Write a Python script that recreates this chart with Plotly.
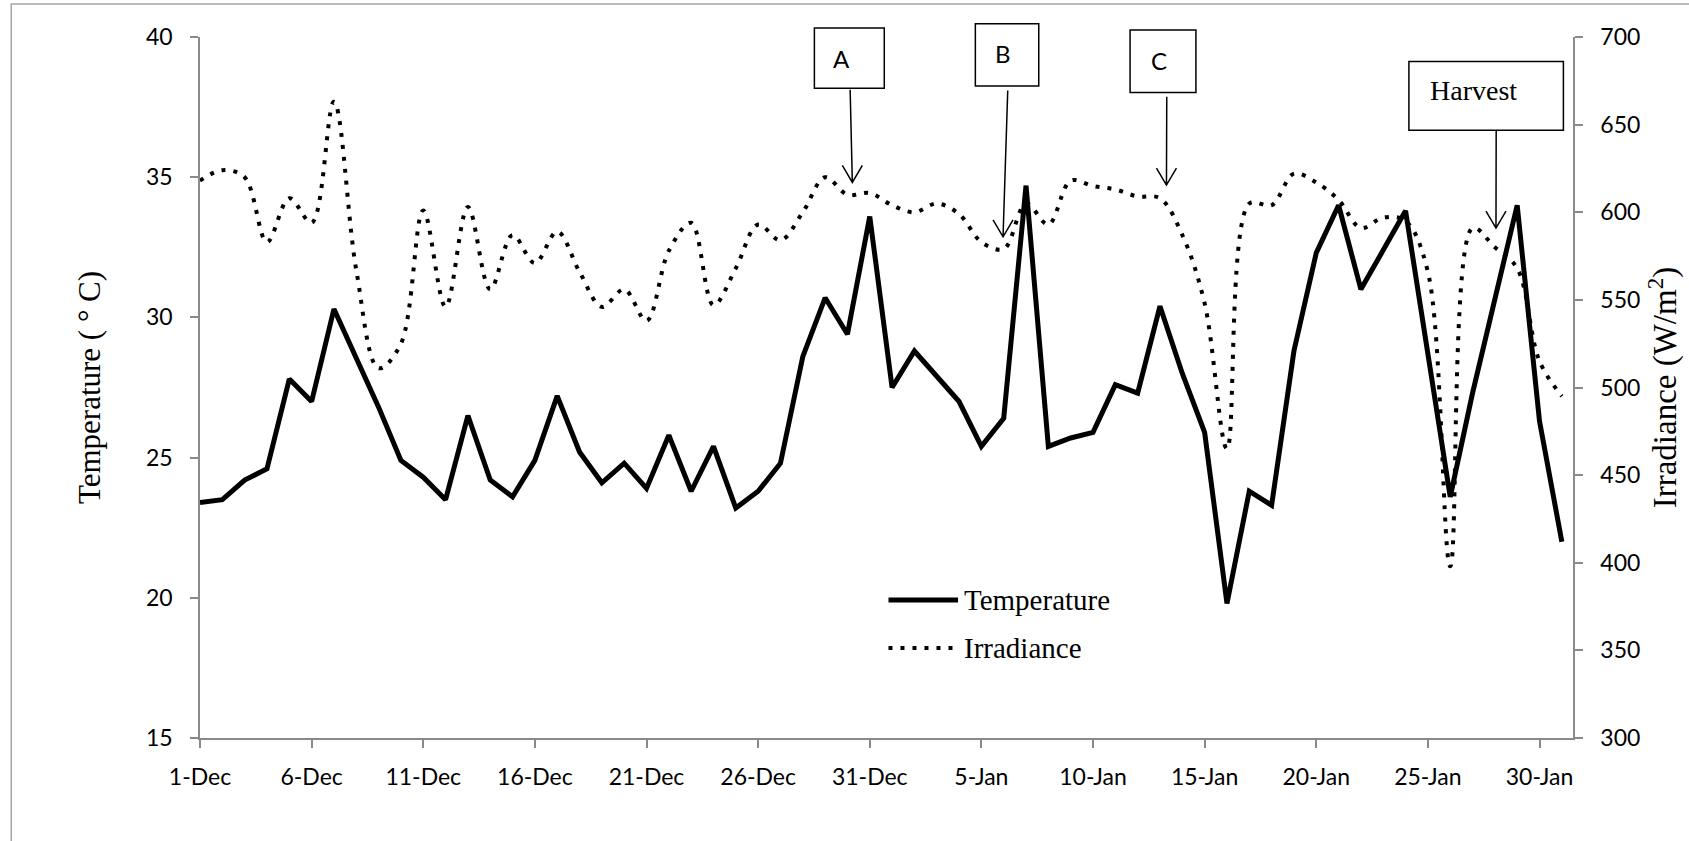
import plotly.graph_objects as go

# ---- data -------------------------------------------------------------
day_numbers = list(range(1, 32)) + list(range(1, 32))
month_names = ["Dec"] * 31 + ["Jan"] * 31
day_labels = [f"{d}-{m}" for d, m in zip(day_numbers, month_names)]
day_index = list(range(len(day_labels)))

temperature = [
    23.4, 23.5, 24.2, 24.6, 27.8, 27.0, 30.3, 28.6, 26.8, 24.9,
    24.3, 23.5, 26.5, 24.2, 23.6, 24.9, 27.2, 25.2, 24.1, 24.8,
    23.9, 25.8, 23.8, 25.4, 23.2, 23.8, 24.8, 28.6, 30.7, 29.4,
    33.6, 27.5, 28.8, 27.9, 27.0, 25.4, 26.4, 34.7, 25.4, 25.7,
    25.9, 27.6, 27.3, 30.4, 28.0, 25.9, 19.8, 23.8, 23.3, 28.8,
    32.3, 34.0, 31.0, 32.4, 33.8, 28.7, 23.6, 27.3, 30.6, 34.0,
    26.3, 22.0,
]

irradiance = [
    618, 624, 620, 583, 608, 594, 663, 567, 511, 525,
    601, 546, 603, 556, 587, 571, 589, 566, 546, 556,
    538, 578, 594, 547, 568, 593, 584, 600, 620, 610,
    611, 604, 600, 605, 599, 583, 579, 605, 593, 618,
    615, 613, 609, 608, 587, 548, 465, 605, 604, 622,
    617, 607, 591, 597, 595, 566, 398, 591, 580, 568,
    515, 495,
]

tick_positions = day_index[::5]
tick_labels = day_labels[::5]

# event markers: label, box (day span, paper span), arrow tip (day, W/m2), tail offset (px)
events = [
    dict(text="A", box=(27.52, 30.65, 0.927, 1.013), text_at=(28.75, 0.970),
         tip=(29.22, 617), tail=(-2.2, 92.7), serif=False),
    dict(text="B", box=(34.73, 37.57, 0.930, 1.019), text_at=(35.96, 0.976),
         tip=(35.97, 586), tail=(4.7, 146.3), serif=False),
    dict(text="C", box=(41.66, 44.61, 0.921, 1.010), text_at=(42.95, 0.966),
         tip=(43.29, 615.5), tail=(0.3, 88.3), serif=False),
    dict(text="Harvest", box=(54.15, 61.07, 0.867, 0.965), text_at=(57.03, 0.924),
         tip=(58.05, 591), tail=(0.2, 97.7), serif=True),
]

AXIS_GREY = "#8a8a8a"
SANS = "Lato"
SERIF = "Liberation Serif"

fig = go.Figure()

fig.add_trace(go.Scatter(
    x=day_index, y=temperature, name="Temperature", mode="lines",
    line=dict(color="black", width=5), yaxis="y", showlegend=False,
))
fig.add_trace(go.Scatter(
    x=day_index, y=irradiance, name="Irradiance", mode="lines",
    line=dict(color="black", width=4, dash="4px,8px", shape="spline"),
    yaxis="y2", showlegend=False,
))

shapes = []
annotations = []

# outer chart frame
shapes.append(dict(
    type="rect", xref="paper", yref="paper",
    x0=(10 - 200) / 1382, x1=(1720 - 200) / 1382,
    y0=(738 - 860) / 701, y1=(738 - 4) / 701,
    line=dict(color="#a6a6a6", width=1.5), layer="below",
))

for ev in events:
    x0, x1, y0, y1 = ev["box"]
    shapes.append(dict(
        type="rect", xref="x", yref="paper", x0=x0, x1=x1, y0=y0, y1=y1,
        line=dict(color="black", width=1.5), fillcolor="white",
    ))
    tx, ty = ev["text_at"]
    annotations.append(dict(
        x=tx, y=ty, xref="x", yref="paper", text=ev["text"], showarrow=False,
        xanchor="center", yanchor="middle",
        font=dict(family=SERIF if ev["serif"] else SANS,
                  size=28 if ev["serif"] else 24, color="black"),
    ))
    dx, dy = ev["tail"]
    shapes.append(dict(
        type="path", xref="x", yref="y2",
        xsizemode="pixel", ysizemode="pixel",
        xanchor=ev["tip"][0], yanchor=ev["tip"][1],
        path=f"M{dx},{dy} L0,0 M-10,17 L0,0 L10,17",
        line=dict(color="black", width=1.5),
    ))

# legend drawn by hand
lx0, lx1 = (893 - 200) / 1382, (963 - 200) / 1382
shapes.append(dict(type="line", xref="paper", yref="paper",
                   x0=lx0, x1=lx1, y0=(738 - 600) / 701, y1=(738 - 600) / 701,
                   line=dict(color="black", width=5)))
shapes.append(dict(type="line", xref="paper", yref="paper",
                   x0=lx0, x1=(958 - 200) / 1382, y0=(738 - 648) / 701, y1=(738 - 648) / 701,
                   line=dict(color="black", width=4, dash="4px,8px")))
for name, ypx in (("Temperature", 600), ("Irradiance", 648)):
    annotations.append(dict(
        x=(967 - 200) / 1382, y=(738 - ypx) / 701, xref="paper", yref="paper",
        text=name, showarrow=False, xanchor="left", yanchor="middle",
        font=dict(family=SERIF, size=29, color="black"),
    ))

axis_common = dict(
    showgrid=False, zeroline=False, showline=True, linecolor=AXIS_GREY, linewidth=1.5,
    ticks="outside", ticklen=8, tickwidth=1.5, tickcolor=AXIS_GREY,
    tickfont=dict(family=SANS, size=23, color="black"),
)

fig.update_layout(
    width=1689, height=841,
    margin=dict(l=200, r=107, t=37, b=103),
    paper_bgcolor="white", plot_bgcolor="white",
    xaxis=dict(
        **axis_common, range=[0, 61.5],
        tickmode="array", tickvals=tick_positions, ticktext=tick_labels,
        ticklabelstandoff=10,
    ),
    yaxis=dict(
        **axis_common, range=[15, 40], tickmode="linear", tick0=15, dtick=5,
        ticklabelstandoff=13,
        title=dict(text="Temperature ( \u00b0 C)", standoff=36,
                   font=dict(family=SERIF, size=31, color="black")),
    ),
    yaxis2=dict(
        **axis_common, range=[300, 700], tickmode="linear", tick0=300, dtick=50,
        overlaying="y", side="right", ticklabelstandoff=13,
        title=dict(text="Irradiance (W/m<sup>2</sup>)", standoff=14,
                   font=dict(family=SERIF, size=33, color="black")),
    ),
    shapes=shapes,
    annotations=annotations,
)

fig.write_html("out.html")
